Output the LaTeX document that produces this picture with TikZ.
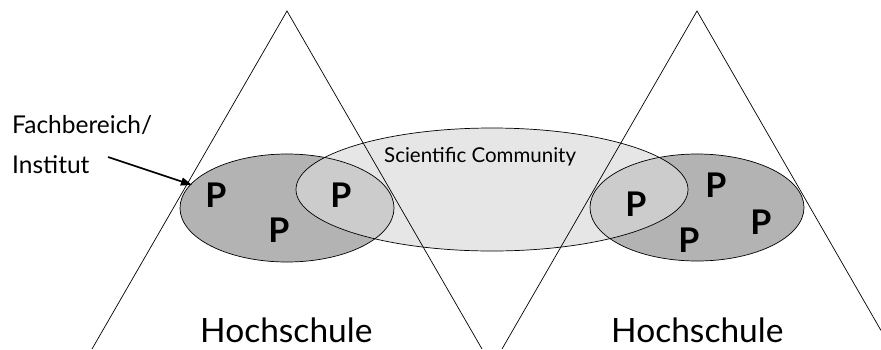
\documentclass[tikz,border=0pt]{standalone}
\usepackage{fontspec}
\setmainfont{Lato}
\usetikzlibrary{arrows.meta}
\definecolor{darkg}{HTML}{B3B3B3}
\definecolor{lightg}{HTML}{E6E6E6}
\definecolor{midg}{HTML}{CCCCCC}
\begin{document}
\begin{tikzpicture}[x=1pt,y=-1pt,
  thinline/.style={draw=black,line width=0.7pt},
  pers/.style={font=\fontsize{34}{34}\selectfont\bfseries,inner sep=0pt},
  hs/.style={font=\fontsize{33.5}{34}\selectfont,inner sep=0pt,anchor=base west},
  lbl/.style={font=\fontsize{24.5}{25}\selectfont,inner sep=0pt,anchor=base west}]
\useasboundingbox (0,0) rectangle (881,349);
% ellipse centres
\coordinate (sc) at (492,189.5);
\coordinate (el) at (287,208);
\coordinate (er) at (697,207.5);
% fills
\fill[lightg] (sc) ellipse [x radius=196, y radius=61.5];
\fill[darkg] (el) ellipse [x radius=107, y radius=54];
\fill[darkg] (er) ellipse [x radius=107, y radius=53.5];
\begin{scope}
  \clip (sc) ellipse [x radius=196, y radius=61.5];
  \fill[midg] (el) ellipse [x radius=107, y radius=54];
  \fill[midg] (er) ellipse [x radius=107, y radius=53.5];
\end{scope}
% outlines
\draw[thinline] (sc) ellipse [x radius=196, y radius=61.5];
\draw[thinline] (el) ellipse [x radius=107, y radius=54];
\draw[thinline] (er) ellipse [x radius=107, y radius=53.5];
% triangles
\coordinate (ta) at (287,11);
\coordinate (tal) at (92,349);
\coordinate (tar) at (482,349);
\coordinate (tb) at (697,11);
\coordinate (tbl) at (502,349);
\coordinate (tbr) at (881,330.5);
\draw[thinline] (tal) -- (ta) -- (tar);
\draw[thinline] (tbl) -- (tb) -- (tbr);
% texts
\node[lbl] (fb) at (12,133) {Fachbereich/};
\node[lbl] (inst) at (12,173) {Institut};
\node[font=\fontsize{20.5}{21}\selectfont,inner sep=0pt,anchor=base west] (sctext) at (384,162) {Scientific Community};
\node[hs] (hs1) at (200,342) {Hochschule};
\node[hs] (hs2) at (611,342) {Hochschule};
% arrow
\coordinate (arrs) at (108,157);
\coordinate (arre) at (192,185);
\draw[line width=1.6pt,-{Triangle[length=11pt,width=8pt]}] (arrs) -- (arre);
% persons
\node[pers] (p1) at (216,195) {P};
\node[pers] (p2) at (279,230) {P};
\node[pers] (p3) at (341,195) {P};
\node[pers] (p4) at (636,204) {P};
\node[pers] (p5) at (716,185) {P};
\node[pers] (p6) at (689,240) {P};
\node[pers] (p7) at (761,222) {P};
\end{tikzpicture}
\end{document}
